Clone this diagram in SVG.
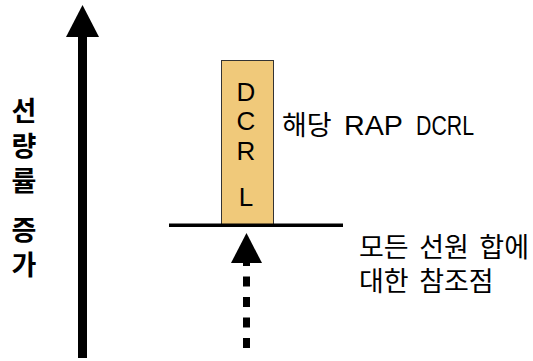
<svg xmlns="http://www.w3.org/2000/svg" width="533" height="361" viewBox="0 0 533 361">
  <style>
    .kr { font-family: "Liberation Sans", "Noto Sans CJK KR", sans-serif; fill: #000; }
    .axis-label { font-size: 27px; font-weight: bold; }
    .label { font-size: 27px; word-spacing: 3px; }
    .box-letter { font-size: 26px; text-anchor: middle; }
  </style>
  <rect width="533" height="361" fill="#fff"/>

  <!-- increasing axis -->
  <g id="axis">
    <rect x="78" y="34" width="9" height="324" fill="#000"/>
    <polygon points="82.5,5 66,37 99,37" fill="#000"/>
  </g>
  <g id="axis-label" class="kr axis-label" text-anchor="middle">
    <text x="24" y="121">선</text>
    <text x="24" y="156">량</text>
    <text x="24" y="191">률</text>
    <text x="24" y="240">증</text>
    <text x="24" y="275">가</text>
  </g>

  <!-- DCRL box -->
  <g id="dcrl">
    <rect x="221.5" y="60.5" width="52" height="165" fill="#F0C97A" stroke="#333" stroke-width="1"/>
    <g class="kr box-letter">
      <text x="246" y="101">D</text>
      <text x="246" y="130">C</text>
      <text x="246" y="160">R</text>
      <text x="246" y="206">L</text>
    </g>
  </g>

  <g id="dcrl-label">
    <rect x="274" y="95" width="6" height="58" fill="#fff"/>
    <text class="kr label" y="135"><tspan x="282">해당</tspan><tspan x="344" textLength="59" lengthAdjust="spacingAndGlyphs">RAP</tspan><tspan x="416" textLength="58" lengthAdjust="spacingAndGlyphs">DCRL</tspan></text>
  </g>

  <!-- reference level -->
  <g id="reference-line">
    <rect x="169" y="223.5" width="174" height="3.5" fill="#000"/>
  </g>

  <g id="connectors">
    <line x1="246.5" y1="256" x2="246.5" y2="348" stroke="#000" stroke-width="7" stroke-dasharray="10 10.5"/>
    <polygon points="246.5,233 231,263 262,263" fill="#000"/>
  </g>

  <g id="reference-label" class="kr label">
    <text x="359" y="257">모든 선원 합에</text>
    <text x="359" y="291">대한 참조점</text>
  </g>
</svg>
